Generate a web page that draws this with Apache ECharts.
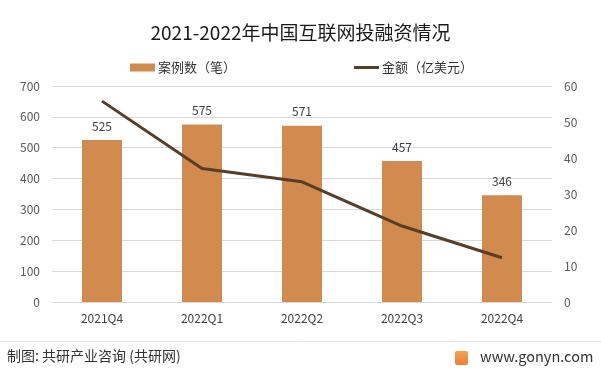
<!DOCTYPE html>
<html><head><meta charset="utf-8">
<script src="https://cdn.jsdelivr.net/npm/echarts@6/dist/echarts.min.js"></script>
<style>html,body{margin:0;padding:0;background:#fff}#c{width:601px;height:374px}</style>
</head><body><div id="c"></div>
<script>
const categories = ['2021Q4','2022Q1','2022Q2','2022Q3','2022Q4'];
const caseCounts = [525, 575, 571, 457, 346];
const amounts = [55.8, 37.1, 33.4, 21.1, 12.3];
const leftTicks = {min:0, max:700, interval:100};
const rightTicks = {min:0, max:60, interval:10};
const barName = '案例数（笔）';
const lineName = '金额（亿美元）';
const titleText = '2021-2022年中国互联网投融资情况';
const sourceText = '制图: 共研产业咨询 (共研网)';
const siteText = 'www.gonyn.com';

const chart = echarts.init(document.getElementById('c'), null, {renderer:'canvas'});
const font = '"Microsoft YaHei","Noto Sans CJK SC",sans-serif';
chart.setOption({
  animation:false,
  backgroundColor:'#fff',
  textStyle:{fontFamily:font},
  title:{text:titleText, left:'center', top:18, textStyle:{fontSize:19, fontWeight:'normal', color:'#1a1a1a', fontFamily:font}},
  legend:{top:56, left:125, itemGap:118, itemWidth:25, itemHeight:8, textStyle:{fontSize:13, color:'#333', fontFamily:font, padding:[0,0,0,-2]},
    data:[{name:barName, icon:'rect'},{name:lineName, icon:'path://M0,2.5L25,2.5L25,5.5L0,5.5Z'}]},
  grid:{left:52, right:49, top:86, bottom:72},
  xAxis:{type:'category', data:categories, axisTick:{show:false}, axisLine:{lineStyle:{color:'#d9d9d9'}},
    axisLabel:{color:'#404040', fontSize:12, margin:10}},
  yAxis:[
    {type:'value', min:leftTicks.min, max:leftTicks.max, interval:leftTicks.interval, position:'left',
      axisLabel:{color:'#595959', fontSize:12, margin:12}, splitLine:{lineStyle:{color:'#d9d9d9'}}, axisLine:{show:false}, axisTick:{show:false}},
    {type:'value', min:rightTicks.min, max:rightTicks.max, interval:rightTicks.interval, position:'right',
      axisLabel:{color:'#595959', fontSize:12, margin:12}, splitLine:{show:false}, axisLine:{show:false}, axisTick:{show:false}}
  ],
  series:[
    {name:barName, type:'bar', data:caseCounts, barWidth:40, itemStyle:{color:'#D28B4E'},
      label:{show:true, position:'top', distance:8, color:'#404040', fontSize:12}},
    {name:lineName, type:'line', yAxisIndex:1, data:amounts, symbol:'none', smooth:false,
      lineStyle:{color:'#5A3D26', width:3}, itemStyle:{color:'#5A3D26'}}
  ],
  graphic:[
    {type:'line', shape:{x1:0,y1:341.5,x2:601,y2:341.5}, style:{stroke:'#ebebeb', lineWidth:1}},
    {type:'text', left:7, top:349, style:{text:sourceText, fill:'#333', font:'14px '+font}},
    {type:'rect', shape:{x:455,y:351,width:13,height:14,r:2}, style:{fill:{type:'linear',x:0,y:0,x2:0,y2:1,colorStops:[{offset:0,color:'#F7A24A'},{offset:1,color:'#EE7E3A'}]}}},
    {type:'text', left:480, top:349, style:{text:siteText, fill:'#333', font:'14.5px '+font}}
  ]
});
</script></body></html>
